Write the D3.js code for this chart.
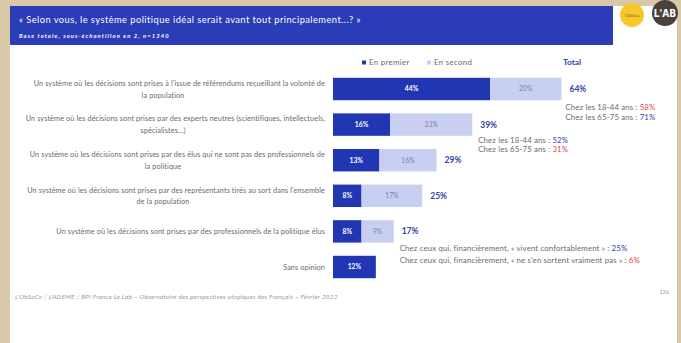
<!DOCTYPE html>
<html>
<head>
<meta charset="utf-8">
<script src="https://cdn.jsdelivr.net/npm/d3@7"></script>
<style>
  body { margin: 0; background: #d9c9a9; }
  svg { display: block; font-family: Lato, "Open Sans", sans-serif; }
</style>
</head>
<body>
<script>
(function(){

//chart data
var categories = [
    ["Un système où les décisions sont prises à l'issue de référendums recueillant la volonté de", "la population"],
    ["Un système où les décisions sont prises par des experts neutres (scientifiques, intellectuels,", "spécialistes…)"],
    ["Un système où les décisions sont prises par des élus qui ne sont pas des professionnels de", "la politique"],
    ["Un système où les décisions sont prises par des représentants tirés au sort dans l'ensemble", "de la population"],
    ["Un système où les décisions sont prises par des professionnels de la politique élus"],
    ["Sans opinion"]
];
var premier = [44, 16, 13, 8, 8, 12];
var second = [20, 23, 16, 17, 9, null];
var totals = [64, 39, 29, 25, 17, null];
var legendLabels = ["En premier", "En second", "Total"];

//sub-group call-outs: row index, label, value, highlight
var notes = [
    {row: 0, line: 0, text: "Chez les 18-44 ans : ", value: "58%", hi: "red"},
    {row: 0, line: 1, text: "Chez les 65-75 ans : ", value: "71%", hi: "blue"},
    {row: 1, line: 0, text: "Chez les 18-44 ans : ", value: "52%", hi: "blue"},
    {row: 1, line: 1, text: "Chez les 65-75 ans : ", value: "31%", hi: "red"},
    {row: 4, line: 0, text: "Chez ceux qui, financièrement, « vivent confortablement » : ", value: "25%", hi: "blue"},
    {row: 4, line: 1, text: "Chez ceux qui, financièrement, « ne s'en sortent vraiment pas » : ", value: "6%", hi: "red"}
];

var title = "« Selon vous, le système politique idéal serait avant tout principalement...? »";
var subtitle = "Base totale, sous-échantillon en 2, n=1340";
var footer = "L'ObSoCo / L'ADEME / BPI France Le Lab – Observatoire des perspectives utopiques des Français – Février 2022";
var pageNum = "126";

//colours
var darkBlue = "#2136b3",
    lightBlue = "#c8cff0",
    headerBlue = "#2a3cb6",
    totalBlue = "#3343a8",
    red = "#e2454f",
    grey = "#6a6a6a";

var width = 681,
    height = 343;

var svg = d3.select("body")
    .append("svg")
    .attr("width", width)
    .attr("height", height);

//slide background
svg.append("rect")
    .attr("x", 10).attr("y", 6)
    .attr("width", 667).attr("height", height - 6)
    .attr("fill", "#fff");

//header band
svg.append("rect")
    .attr("x", 10).attr("y", 6)
    .attr("width", 603).attr("height", 39)
    .attr("fill", headerBlue);

svg.append("text")
    .attr("x", 19).attr("y", 23)
    .attr("fill", "#fff")
    .style("font-size", "9.3px")
    .style("letter-spacing", "0.45px")
    .text(title);

svg.append("text")
    .attr("x", 19).attr("y", 38)
    .attr("fill", "#fff")
    .style("font-size", "5.8px")
    .style("font-style", "italic")
    .style("font-weight", "bold")
    .style("letter-spacing", "1.1px")
    .text(subtitle);

//logos
svg.append("circle")
    .attr("cx", 632).attr("cy", 15).attr("r", 12)
    .attr("fill", "#f6c82b");
svg.append("text")
    .attr("x", 632).attr("y", 17)
    .attr("text-anchor", "middle")
    .attr("fill", "#8a6a10")
    .style("font-size", "3.5px")
    .text("l'ObSoCo");
svg.append("circle")
    .attr("cx", 665).attr("cy", 13).attr("r", 13)
    .attr("fill", "#4b403b");
svg.append("text")
    .attr("x", 665).attr("y", 17)
    .attr("text-anchor", "middle")
    .attr("fill", "#fff")
    .style("font-size", "10px")
    .style("font-family", "'Liberation Sans Narrow', 'DejaVu Sans Condensed', sans-serif")
    .style("font-weight", "bold")
    .text("L'AB");

//scales
var x = d3.scaleLinear()
    .domain([0, 100])
    .range([333, 690]);

var y = d3.scaleBand()
    .domain(d3.range(categories.length))
    .range([71.2, 284.8])
    .paddingInner(0.37)
    .paddingOuter(0.185);

var bh = y.bandwidth();

//legend
var legend = svg.append("g");
legend.append("rect")
    .attr("x", 362).attr("y", 60.5).attr("width", 4).attr("height", 4)
    .attr("fill", darkBlue);
legend.append("text")
    .attr("x", 369).attr("y", 65)
    .attr("fill", grey)
    .style("font-size", "7.8px")
    .style("letter-spacing", "0.35px")
    .text(legendLabels[0]);
legend.append("rect")
    .attr("x", 427).attr("y", 60.5).attr("width", 4).attr("height", 4)
    .attr("fill", lightBlue);
legend.append("text")
    .attr("x", 434).attr("y", 65)
    .attr("fill", grey)
    .style("font-size", "7.8px")
    .style("letter-spacing", "0.35px")
    .text(legendLabels[1]);
legend.append("text")
    .attr("x", 563).attr("y", 65)
    .attr("fill", totalBlue)
    .style("font-size", "8.4px")
    .style("font-weight", "bold")
    .text(legendLabels[2]);

//category labels
var labels = svg.selectAll(".catLabel")
    .data(categories)
    .enter()
    .append("g")
    .attr("class", "catLabel")
    .style("font-size", "7.3px")
    .style("letter-spacing", "0.1px")
    .attr("fill", grey);

labels.each(function(lines, i){
    var g = d3.select(this);
    var cy = y(i) + bh / 2;
    if (lines.length == 1){
        g.append("text")
            .attr("x", 325).attr("y", cy + 2.5)
            .attr("text-anchor", "end")
            .text(lines[0]);
    } else {
        g.append("text")
            .attr("x", 325).attr("y", cy - 3.3)
            .attr("text-anchor", "end")
            .text(lines[0]);
        g.append("text")
            .attr("x", 163).attr("y", cy + 8.6)
            .attr("text-anchor", "middle")
            .text(lines[1]);
    }
});

//first-choice bars
svg.selectAll(".premier")
    .data(premier)
    .enter()
    .append("rect")
    .attr("class", "premier")
    .attr("x", x(0))
    .attr("y", function(d, i){ return y(i); })
    .attr("width", function(d){ return x(d) - x(0); })
    .attr("height", bh)
    .attr("fill", darkBlue);

svg.selectAll(".premierLabel")
    .data(premier)
    .enter()
    .append("text")
    .attr("class", "premierLabel")
    .attr("x", function(d){ return (x(0) + x(d)) / 2; })
    .attr("y", function(d, i){ return y(i) + bh / 2 + 2.4; })
    .attr("text-anchor", "middle")
    .attr("fill", "#fff")
    .style("font-size", "6.8px")
    .style("font-weight", "bold")
    .text(function(d){ return d + "%"; });

//second-choice bars
var secondData = second.map(function(d, i){ return {v: d, p: premier[i], i: i}; })
    .filter(function(d){ return d.v != null; });

svg.selectAll(".second")
    .data(secondData)
    .enter()
    .append("rect")
    .attr("class", "second")
    .attr("x", function(d){ return x(d.p); })
    .attr("y", function(d){ return y(d.i); })
    .attr("width", function(d){ return x(d.p + d.v) - x(d.p); })
    .attr("height", bh)
    .attr("fill", lightBlue);

svg.selectAll(".secondLabel")
    .data(secondData)
    .enter()
    .append("text")
    .attr("class", "secondLabel")
    .attr("x", function(d){ return (x(d.p) + x(d.p + d.v)) / 2; })
    .attr("y", function(d){ return y(d.i) + bh / 2 + 2.4; })
    .attr("text-anchor", "middle")
    .attr("fill", "#7d84b4")
    .style("font-size", "6.8px")
    .text(function(d){ return d.v + "%"; });

//totals
var totalData = totals.map(function(d, i){ return {v: d, i: i}; })
    .filter(function(d){ return d.v != null; });

svg.selectAll(".total")
    .data(totalData)
    .enter()
    .append("text")
    .attr("class", "total")
    .attr("x", function(d){ return x(d.v) + 8; })
    .attr("y", function(d){ return y(d.i) + bh / 2 + 3; })
    .attr("fill", totalBlue)
    .style("font-size", "8.5px")
    .style("font-weight", "bold")
    .text(function(d){ return d.v + "%"; });

//call-outs, placed under each total
var noteShift = {0: {dx: -4, dy: 9.5, gap: 10}, 1: {dx: -2, dy: 7, gap: 9.5}, 4: {dx: -2, dy: 8.5, gap: 12}};

svg.selectAll(".note")
    .data(notes)
    .enter()
    .append("text")
    .attr("class", "note")
    .attr("x", function(d){ return x(totals[d.row]) + 8 + noteShift[d.row].dx; })
    .attr("y", function(d){ return y(d.row) + bh + noteShift[d.row].dy + d.line * noteShift[d.row].gap; })
    .attr("fill", grey)
    .style("font-size", "7.8px")
    .style("letter-spacing", "0.15px")
    .each(function(d){
        var t = d3.select(this);
        t.append("tspan").text(d.text);
        t.append("tspan")
            .attr("fill", d.hi == "red" ? red : totalBlue)
            .text(d.value);
    });

//footer
svg.append("text")
    .attr("x", 15).attr("y", 299)
    .attr("fill", "#999")
    .style("font-size", "6.4px")
    .style("font-style", "italic")
    .style("letter-spacing", "0.25px")
    .text(footer);

svg.append("text")
    .attr("x", 669).attr("y", 294)
    .attr("text-anchor", "end")
    .attr("fill", "#999")
    .style("font-size", "5.5px")
    .text(pageNum);

})();
</script>
</body>
</html>
